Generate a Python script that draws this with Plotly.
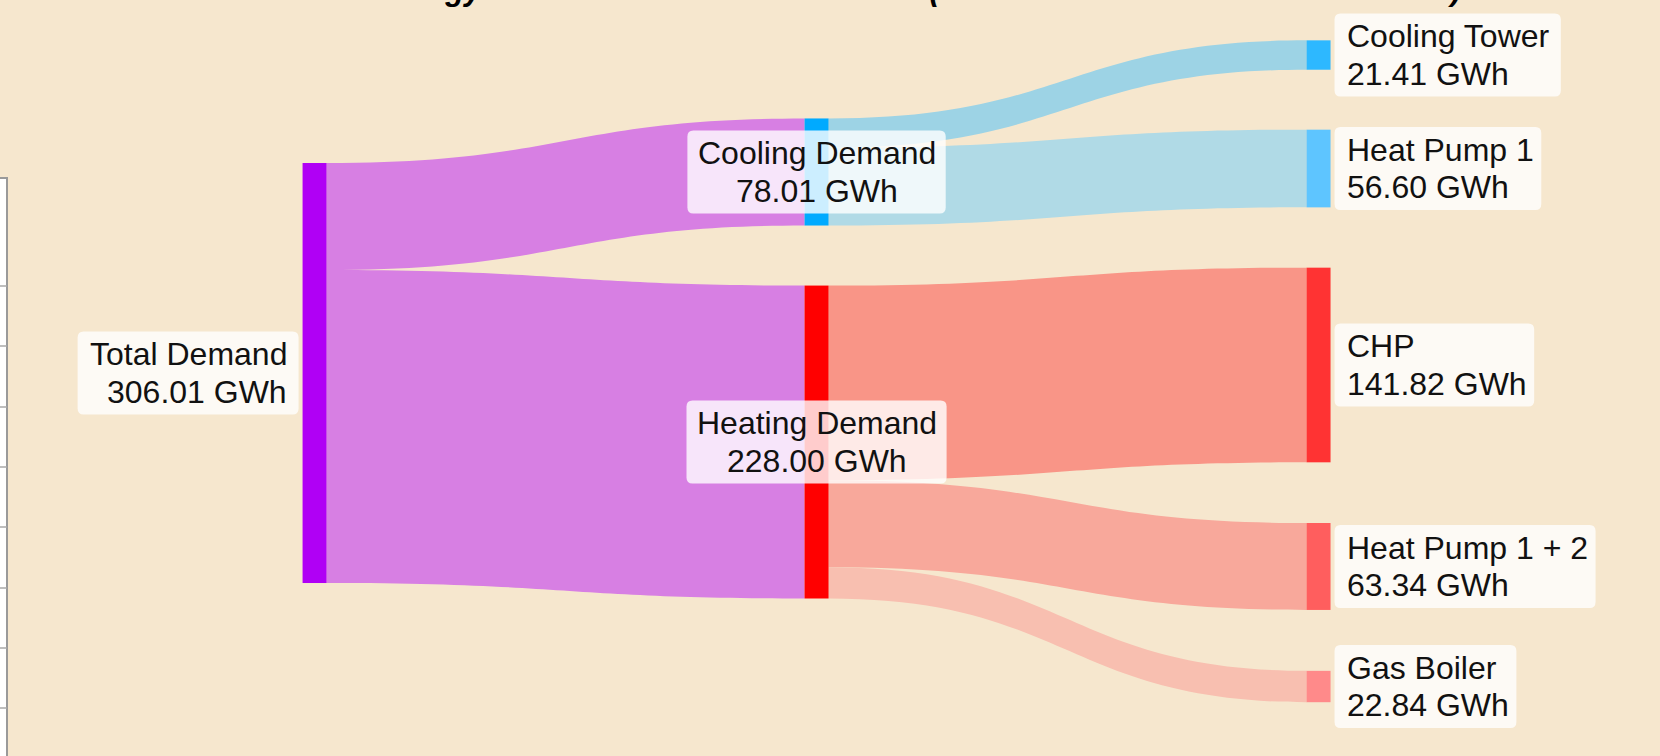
import plotly.graph_objects as go

# ---------------- data ----------------
node_names = ["Total Demand", "Cooling Demand", "Heating Demand", "Cooling Tower",
              "Heat Pump 1", "CHP", "Heat Pump 1 + 2", "Gas Boiler"]
link_source = [0, 0, 1, 1, 2, 2, 2]
link_target = [1, 2, 3, 4, 5, 6, 7]
link_values = [78.01, 228.00, 21.41, 56.60, 141.82, 63.34, 22.84]
unit = "GWh"
title_text = "District Energy Flow from Demand to Source (Total Annual Demand: 306.01 GWh)"

# ---------------- styles / layout ----------------
W, H = 1660, 756
node_colors = ["#b000f5", "#00aaff", "#ff0000", "#2db8ff", "#5ec5ff", "#ff3333", "#ff5e5e", "#ff8a8a"]
link_colors = ["#d77fe3", "#d77fe3", "#9dd3e5", "#b0dae6", "#f99587", "#f8a89b", "#f8bfb0"]
node_x = [0.1895, 0.4919, 0.4919, 0.7943, 0.7943, 0.7943, 0.7943, 0.7943]
node_y = [0.4934, 0.2275, 0.5847, 0.0728, 0.2229, 0.4828, 0.7493, 0.9081]
label_side = ["left", "center", "center", "right", "right", "right", "right", "right"]
thickness = 24
pad = 84
bg = "#f6e7ce"
font_family = "Liberation Sans, Arial, sans-serif"
fsize = 32

# node totals from the links
node_vals = []
for i in range(len(node_names)):
    vin = sum(v for s, t, v in zip(link_source, link_target, link_values) if t == i)
    vout = sum(v for s, t, v in zip(link_source, link_target, link_values) if s == i)
    node_vals.append(max(vin, vout))

fig = go.Figure(go.Sankey(
    arrangement="fixed",
    domain=dict(x=[0, 1], y=[0, 1]),
    node=dict(
        label=["" for _ in node_names],
        customdata=[f"{n}<br>{v:.2f} {unit}" for n, v in zip(node_names, node_vals)],
        hovertemplate="%{customdata}<extra></extra>",
        color=node_colors, x=node_x, y=node_y,
        thickness=thickness, pad=pad, line=dict(width=0),
    ),
    link=dict(source=link_source, target=link_target, value=link_values,
              color=link_colors, hovertemplate="%{value:.2f} " + unit + "<extra></extra>"),
))

# Arial / Liberation Sans advance widths (per 1000 em)
AW = {' ': 278, '.': 278, '+': 584, 'A': 667, 'B': 667, 'C': 722, 'D': 722, 'G': 778, 'H': 722,
      'P': 667, 'T': 611, 'W': 944, 'a': 556, 'b': 556, 'd': 556, 'e': 556, 'g': 556, 'h': 556,
      'i': 222, 'l': 222, 'm': 833, 'n': 556, 'o': 556, 'p': 556, 'r': 333, 's': 500, 't': 278,
      'u': 556, 'w': 722}


def text_w(s):
    return sum(AW.get(c, 556) for c in s) / 1000 * fsize


def px(x):
    return x / W


def py(y):
    return 1 - y / H


def rrect(x0, y0, x1, y1, r=6):
    pts = [
        f"M{px(x0 + r)},{py(y0)}", f"L{px(x1 - r)},{py(y0)}", f"Q{px(x1)},{py(y0)} {px(x1)},{py(y0 + r)}",
        f"L{px(x1)},{py(y1 - r)}", f"Q{px(x1)},{py(y1)} {px(x1 - r)},{py(y1)}",
        f"L{px(x0 + r)},{py(y1)}", f"Q{px(x0)},{py(y1)} {px(x0)},{py(y1 - r)}",
        f"L{px(x0)},{py(y0 + r)}", f"Q{px(x0)},{py(y0)} {px(x0 + r)},{py(y0)}", "Z"]
    return " ".join(pts)


shapes = []
annotations = []
box_h = 83
padx = 10
line_off = 18.8
for i, name in enumerate(node_names):
    cx = node_x[i] * W
    cy = node_y[i] * H
    val = f"{node_vals[i]:.2f} {unit}"
    tw = max(text_w(name), text_w(val))
    bw = tw + 2 * padx
    side = label_side[i]
    if side == "left":
        bx1 = cx - thickness / 2 - 4
        bx0 = bx1 - bw
        tx, xa = bx1 - padx, "right"
    elif side == "right":
        bx0 = cx + thickness / 2 + 4
        bx1 = bx0 + bw
        tx, xa = bx0 + padx, "left"
    else:
        ccx = cx
        bx0, bx1 = ccx - bw / 2, ccx + bw / 2
        tx, xa = ccx, "center"
    shapes.append(dict(type="path", xref="paper", yref="paper", layer="above",
                       path=rrect(bx0, cy - box_h / 2, bx1, cy + box_h / 2),
                       fillcolor="rgba(255,255,255,0.8)", line=dict(width=0)))
    for txt, dy in ((name, -line_off), (val, line_off)):
        annotations.append(dict(x=px(tx), y=py(cy + dy), xref="paper", yref="paper",
                                xanchor=xa, yanchor="middle", text=txt, showarrow=False,
                                font=dict(family=font_family, size=fsize, color="#111111")))

# title (cut off by the top edge of the page, as in the reference)
annotations.append(dict(x=0.5184, y=1.0145, xref="paper", yref="paper", xanchor="center",
                        yanchor="middle", showarrow=False, text=f"<b><i>{title_text}</i></b>",
                        font=dict(family=font_family, size=31, color="black")))

# partially visible neighbouring panel on the left edge
panel_rows = [286, 346, 407, 467, 527, 588, 648, 708]
shapes.append(dict(type="rect", xref="paper", yref="paper", layer="above",
                   x0=px(-3), x1=px(7), y0=py(178), y1=py(H + 5),
                   fillcolor="white", line=dict(color="#9a9a9a", width=2)))
for r in panel_rows:
    shapes.append(dict(type="line", xref="paper", yref="paper", layer="above",
                       x0=px(0), x1=px(7), y0=py(r), y1=py(r),
                       line=dict(color="#a8a8a8", width=1.5)))

fig.update_layout(
    width=W, height=H, autosize=False,
    margin=dict(l=0, r=0, t=0, b=0),
    paper_bgcolor=bg, plot_bgcolor=bg,
    font=dict(family=font_family, size=fsize, color="#111111"),
    shapes=shapes, annotations=annotations,
)

fig.write_html("out.html", config={"displayModeBar": False},
               post_script="document.body.style.margin='0px';document.body.style.overflow='hidden';")
